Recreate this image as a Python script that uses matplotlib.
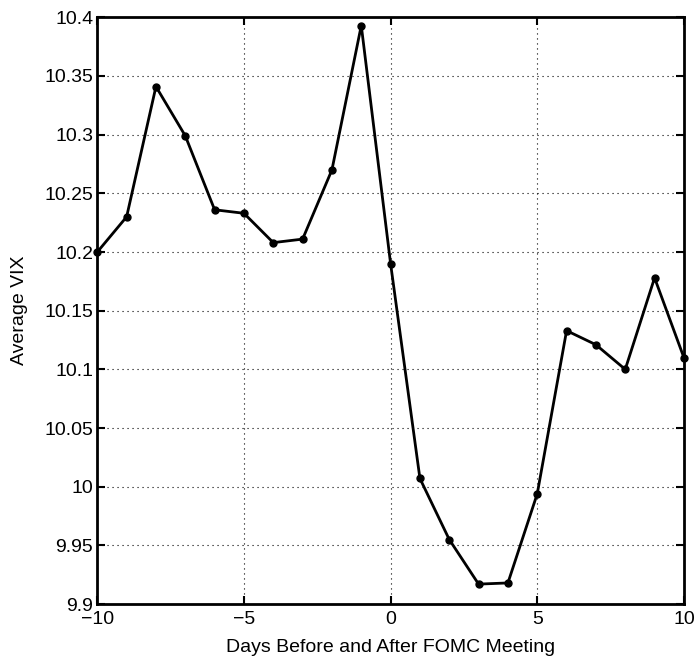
import matplotlib
matplotlib.use("Agg")
from matplotlib import pyplot as plt

days = list(range(-10, 11))
avg_vix = [10.200, 10.230, 10.341, 10.299, 10.236, 10.233, 10.208, 10.211, 10.270, 10.393,
           10.190, 10.007, 9.955, 9.917, 9.918, 9.994, 10.133, 10.121, 10.100, 10.178, 10.110]
xticks = [-10, -5, 0, 5, 10]
yticks = [9.9, 9.95, 10, 10.05, 10.1, 10.15, 10.2, 10.25, 10.3, 10.35, 10.4]
yticklabels = ['9.9', '9.95', '10', '10.05', '10.1', '10.15', '10.2', '10.25', '10.3', '10.35', '10.4']

plt.rcParams['font.family'] = ['Liberation Sans', 'DejaVu Sans']

fig = plt.figure(figsize=(7, 6.66), dpi=100)
ax = fig.add_axes([0.139, 0.093, 0.838, 0.881])

ax.plot(days, avg_vix, color='black', linewidth=2, marker='o', markersize=5,
        markerfacecolor='black', markeredgecolor='black', clip_on=False, zorder=3)

ax.set_xlim(-10, 10)
ax.set_ylim(9.9, 10.4)
ax.set_xticks(xticks)
ax.set_xticklabels(['\u221210', '\u22125', '0', '5', '10'])
ax.set_yticks(yticks)
ax.set_yticklabels(yticklabels)
ax.tick_params(direction='in', length=6, width=1.5, labelsize=14, top=True, right=True, pad=3)
ax.tick_params(axis='x', pad=5)

ax.grid(True, linestyle=(0, (1, 3.5)), color='black', linewidth=0.8)
for s in ax.spines.values():
    s.set_linewidth(2)

ax.set_xlabel('Days Before and After FOMC Meeting', fontsize=14, labelpad=8)
ax.set_ylabel('Average VIX', fontsize=14, labelpad=12)

plt.savefig('out.png', dpi=100)
